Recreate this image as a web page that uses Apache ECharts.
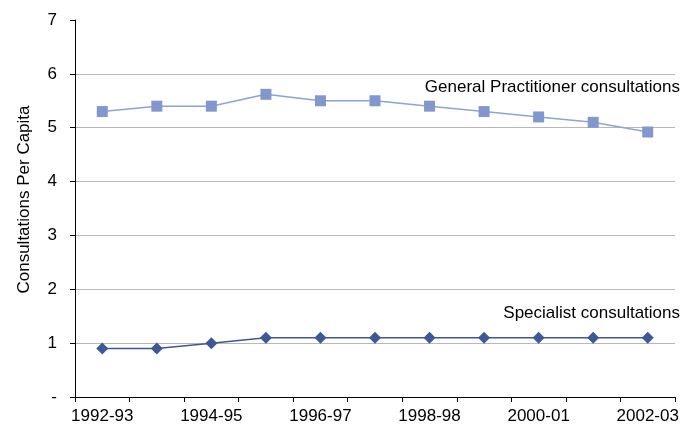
<!DOCTYPE html>
<html><head><meta charset="utf-8">
<script src="https://cdn.jsdelivr.net/npm/echarts@6/dist/echarts.min.js"></script>
<style>html,body{margin:0;padding:0;background:#fff}#c{width:682px;height:429px}</style>
</head><body><div id="c"></div>
<script>
var categories = ['1992-93','1993-94','1994-95','1995-96','1996-97','1997-98','1998-98','1999-00','2000-01','2001-02','2002-03'];
var gpValues = [5.3, 5.4, 5.4, 5.62, 5.5, 5.5, 5.4, 5.3, 5.2, 5.1, 4.92];
var specialistValues = [0.9, 0.9, 1.0, 1.1, 1.1, 1.1, 1.1, 1.1, 1.1, 1.1, 1.1];
var gpLabel = 'General Practitioner consultations';
var specLabel = 'Specialist consultations';

var chart = echarts.init(document.getElementById('c'));
var font = 'Liberation Sans, Arial, sans-serif';
chart.setOption({
  animation: false,
  grid: {left: 75, right: 7, top: 20, bottom: 32},
  xAxis: {
    type: 'category', data: categories, boundaryGap: true,
    axisLine: {lineStyle: {color: '#000', width: 1}},
    axisTick: {show: true, length: 5, interval: 0, lineStyle: {color: '#000'}},
    axisLabel: {interval: 1, color: '#000', fontFamily: font, fontSize: 17, margin: 11}
  },
  yAxis: {
    type: 'value', min: 0, max: 7, interval: 1,
    name: 'Consultations Per Capita', nameLocation: 'middle', nameGap: 42,
    nameTextStyle: {color: '#000', fontFamily: font, fontSize: 17, padding: [0, 0, 0, 18]},
    axisLine: {show: true, lineStyle: {color: '#000', width: 1}},
    axisTick: {show: true, length: 5, inside: false, lineStyle: {color: '#000'}},
    axisLabel: {color: '#000', fontFamily: font, fontSize: 17, margin: 18,
      formatter: function(v){ return v === 0 ? '-' : String(v); }},
    splitLine: {show: true, lineStyle: {color: '#b8b8b8', width: 1},
      showMinLine: false, showMaxLine: false}
  },
  series: [
    {type: 'line', data: gpValues, symbol: 'rect', symbolSize: 11,
     lineStyle: {color: '#8ea3d4', width: 1.5}, itemStyle: {color: '#8297cd'}},
    {type: 'line', data: specialistValues, symbol: 'diamond', symbolSize: [12, 12],
     lineStyle: {color: '#3e5796', width: 1.5}, itemStyle: {color: '#3e5796'}}
  ],
  graphic: [
    {type: 'text', right: 2, top: 79, style: {text: gpLabel, fill: '#000', font: '17px ' + font}},
    {type: 'text', right: 2, top: 305, style: {text: specLabel, fill: '#000', font: '17px ' + font}}
  ]
});
</script></body></html>
